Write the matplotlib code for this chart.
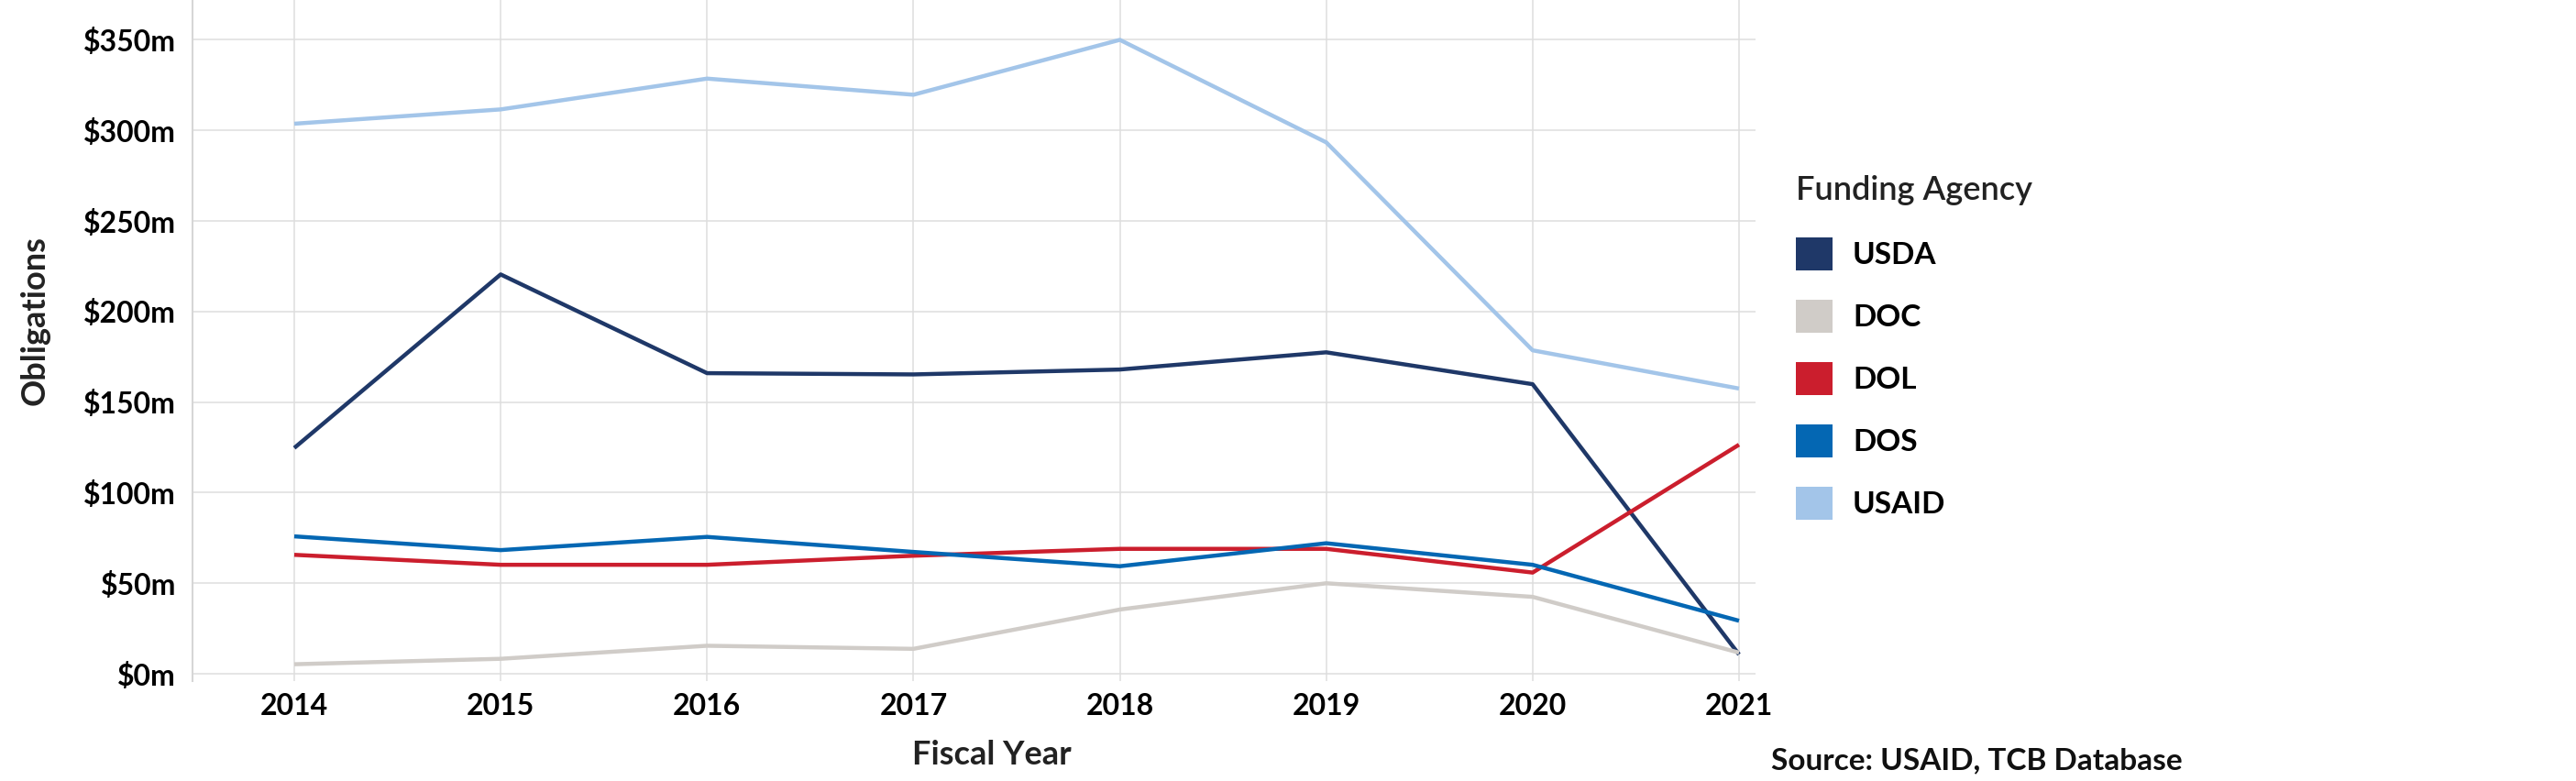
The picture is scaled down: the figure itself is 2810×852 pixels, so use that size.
import numpy as np
import matplotlib
matplotlib.use("Agg")
import matplotlib.pyplot as plt
from matplotlib.patches import Patch
from matplotlib.ticker import FuncFormatter

# fiscal years and obligations (millions of dollars) per funding agency
years = [2014, 2015, 2016, 2017, 2018, 2019, 2020, 2021]
usda = [124.7, 220.5, 166.0, 165.3, 168.0, 177.5, 159.9, 10.7]
doc = [5.3, 8.3, 15.5, 13.8, 35.5, 50.0, 42.5, 11.7]
dol = [65.7, 60.2, 60.2, 65.2, 69.0, 69.0, 55.9, 126.5]
dos = [75.9, 68.3, 75.6, 67.3, 59.4, 72.1, 60.2, 29.3]
usaid = [303.7, 311.6, 328.6, 319.7, 350.0, 293.4, 178.6, 157.5]

agencies = ["USDA", "DOC", "DOL", "DOS", "USAID"]
colors = ["#1f3868", "#d0ccc8", "#cb1e2d", "#0467b3", "#a3c5e9"]
series = [usda, doc, dol, dos, usaid]
yticks = [0, 50, 100, 150, 200, 250, 300, 350]

plt.rcParams['font.family'] = ['Lato', 'DejaVu Sans']

fig = plt.figure(figsize=(28.1, 8.52), dpi=100)
ax = fig.add_axes([210 / 2810, 1 - 743 / 852, (1915 - 210) / 2810, 743 / 852])

for name, vals, col in zip(agencies, series, colors):
    ax.plot(years, vals, color=col, lw=3.2, label=name, solid_capstyle='butt', zorder=3)

ax.set_xlim(2013.507, 2021.08)
ax.set_ylim(-4, 372)
ax.set_xticks(years)
ax.set_yticks(yticks)
ax.yaxis.set_major_formatter(FuncFormatter(lambda v, p: "$%dm" % v))

ax.grid(True, color="#dedede", lw=1.1, zorder=0)
ax.tick_params(length=0, labelsize=23)
ax.tick_params(axis='y', pad=13)
ax.tick_params(axis='x', pad=9)
for lab in ax.get_xticklabels() + ax.get_yticklabels():
    lab.set_fontweight('bold')

for s in ['top', 'right', 'bottom']:
    ax.spines[s].set_visible(False)
ax.spines['left'].set_color("#d6d6d6")
ax.spines['left'].set_linewidth(1.5)

fig.text(38 / 2810, 1 - 350 / 852, "Obligations", rotation=90, ha='center', va='center',
         fontsize=26, fontweight='bold', color="#222222")
fig.text(1082 / 2810, 1 - 824 / 852, "Fiscal Year", ha='center', va='center',
         fontsize=26, fontweight='bold', color="#222222")
fig.text(1932 / 2810, 1 - 830 / 852, "Source: USAID, TCB Database", ha='left', va='center',
         fontsize=24, fontweight='bold', color="#111111")

handles = [Patch(facecolor=c, edgecolor='none') for c in colors]
leg = fig.legend(handles, agencies, loc='upper left', bbox_to_anchor=(1946 / 2810, 1 - 178 / 852),
                 frameon=False, title="Funding Agency", title_fontsize=26,
                 prop={'size': 24, 'weight': 'bold'}, handlelength=1.2, handleheight=1.3,
                 labelspacing=0.95, handletextpad=0.65, borderaxespad=0)
leg._legend_box.align = "left"
leg._legend_box.sep = 25
leg.get_title().set_color("#222222")
leg.get_title().set_fontweight('semibold')

fig.savefig("out.png", dpi=100)
